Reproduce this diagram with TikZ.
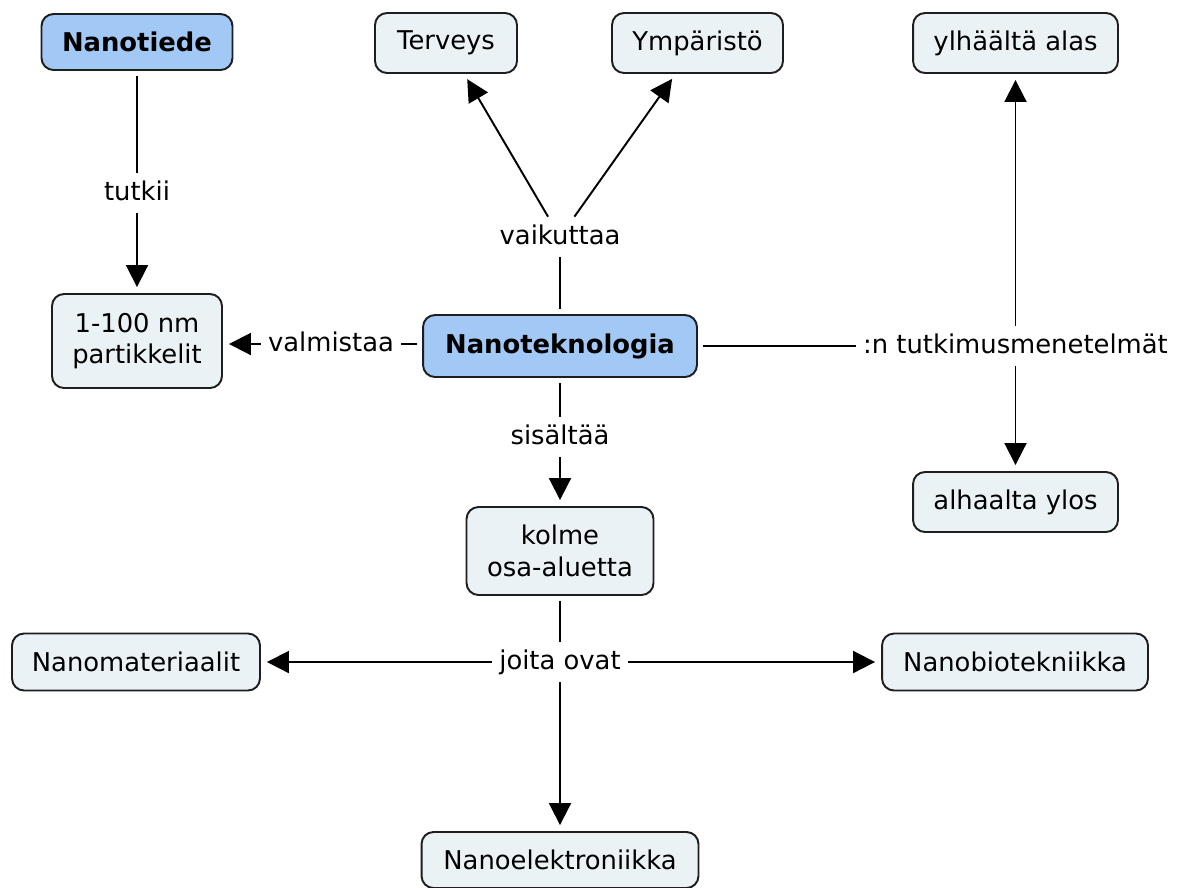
\documentclass[tikz,border=0pt]{standalone}
\usepackage{fontspec}
\setmainfont{DejaVu Sans}
\usetikzlibrary{arrows.meta}
\newdimen\px \px=0.02cm
\definecolor{hubblue}{RGB}{162,200,246}
\definecolor{boxfill}{RGB}{235,242,245}
\definecolor{edge}{RGB}{30,30,30}
\begin{document}
\begin{tikzpicture}[x=0.02cm,y=-0.02cm,
  every node/.style={font=\fontsize{14.7}{18}\selectfont},
  box/.style={draw=edge, line width=1.1pt, rounded corners=0.24cm, fill=boxfill, align=center, inner sep=0pt, minimum height=1.16cm},
  hub/.style={box, fill=hubblue, font=\fontsize{14.7}{18}\selectfont\bfseries},
  lbl/.style={inner xsep=0.14cm, inner ysep=0pt, minimum height=0.8cm, text height=0.4cm, text depth=0.12cm},
  conn/.style={draw=black, line width=1.1pt, shorten <=0.1cm},
  arr/.style={draw=black, line width=1.1pt, -{Triangle[length=0.44cm,width=0.44cm]}, shorten >=0.12cm}]
\fill[white] (0,0) rectangle (1189,887);
\useasboundingbox (0,0) rectangle (1189,887);

% concept nodes
\node[hub, minimum width=3.82cm, minimum height=1.12cm] (nt) at (137,42) {Nanotiede};
\node[box, minimum width=2.84cm, minimum height=1.2cm] (terv) at (446,43) {Terveys};
\node[box, minimum width=3.42cm, minimum height=1.2cm] (ymp) at (697.5,43) {Ympäristö};
\node[box, minimum width=4.1cm, minimum height=1.2cm] (ylh) at (1015.5,43) {ylhäältä alas};
\node[box, minimum width=3.4cm, minimum height=1.88cm] (part) at (137,341) {1-100 nm\\partikkelit};
\node[hub, minimum width=5.48cm, minimum height=1.24cm] (nano) at (560,346) {Nanoteknologia};
\node[box, minimum width=4.1cm, minimum height=1.2cm] (alh) at (1015.5,502) {alhaalta ylos};
\node[box, minimum width=3.74cm, minimum height=1.76cm] (kolme) at (560,551) {kolme\\osa-aluetta};
\node[box, minimum width=4.96cm, minimum height=1.14cm] (nmat) at (136,662) {Nanomateriaalit};
\node[box, minimum width=5.32cm, minimum height=1.14cm] (nbio) at (1015,662) {Nanobiotekniikka};
\node[box, minimum width=5.54cm, minimum height=1.12cm] (nele) at (560,860) {Nanoelektroniikka};

% linking phrases
\node[lbl] (tutkii) at (137,193) {tutkii};
\node[lbl] (vaik) at (560,237) {vaikuttaa};
\node[lbl] (valm) at (331,344) {valmistaa};
\node[lbl] (tutk) at (1015.5,346) {:n tutkimusmenetelmät};
\node[lbl] (sis) at (560,437) {sisältää};
\node[lbl] (joita) at (560,662) {joita ovat};

% connectors
\draw[conn] (nt) -- (tutkii);
\draw[arr] (tutkii) -- (part);
\draw[conn] (nano) -- (vaik);
\draw[arr] (vaik) -- (terv);
\draw[arr] (vaik) -- (ymp);
\draw[conn] (valm -| nano.west) -- (valm);
\draw[arr] (valm) -- (valm -| part.east);
\draw[conn] (nano) -- (tutk);
\draw[arr] (tutk) -- (ylh);
\draw[arr] (tutk) -- (alh);
\draw[conn] (nano) -- (sis);
\draw[arr] (sis) -- (kolme);
\draw[conn] (kolme) -- (joita);
\draw[arr] (joita) -- (nmat);
\draw[arr] (joita) -- (nbio);
\draw[arr] (joita) -- (nele);
\end{tikzpicture}
\end{document}
